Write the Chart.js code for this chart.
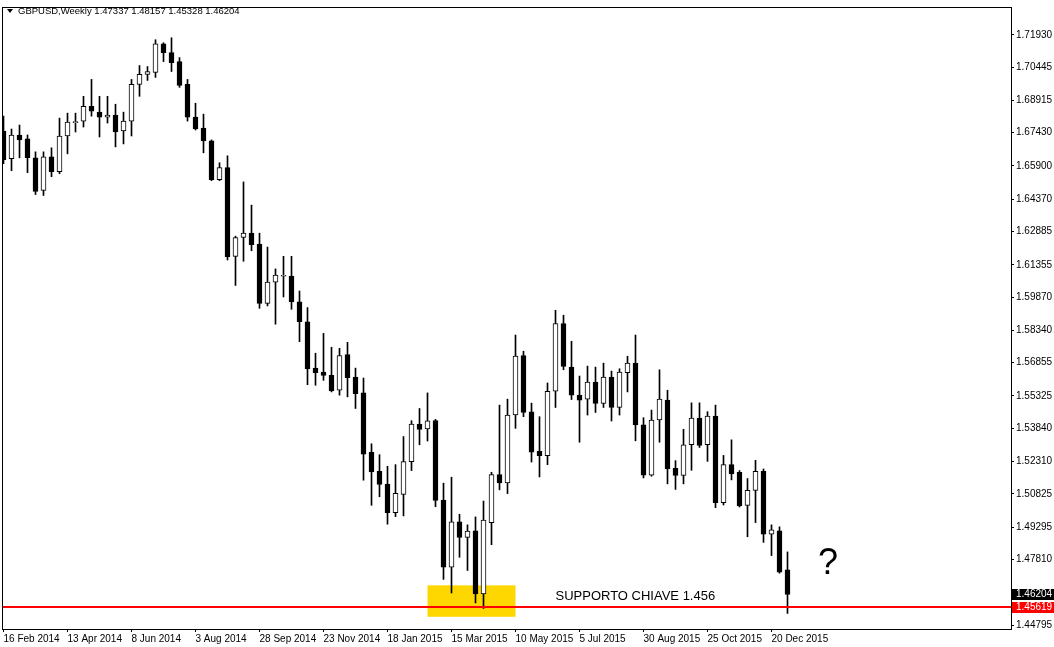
<!DOCTYPE html>
<html>
<head>
<meta charset="utf-8">
<script src="https://cdn.jsdelivr.net/npm/chart.js@4.4.1/dist/chart.umd.min.js"></script>
<style>
  html, body { margin: 0; padding: 0; background: #fff; overflow: hidden; }
  canvas { display: block; }
</style>
</head>
<body>
<canvas id="chart" width="1054" height="647"></canvas>
<script>
/* ---- data: GBPUSD weekly candles, 16 Feb 2014 → 3 Jan 2016 ---- */
const symbol = 'GBPUSD,Weekly';

const opens = [
  1.67507, 1.66230, 1.67325, 1.67142, 1.66276, 1.64771, 1.66321, 1.65637, 1.67279, 1.67894,
  1.67963, 1.68647, 1.68374, 1.68146, 1.68237, 1.67507, 1.67963, 1.69651, 1.70107, 1.70198,
  1.71520, 1.71110, 1.70699, 1.69651, 1.68146, 1.67644, 1.67051, 1.65272, 1.65820, 1.61747,
  1.62613, 1.62810, 1.62308, 1.59585, 1.60561, 1.60830, 1.60835, 1.59649, 1.58737, 1.56607,
  1.56425, 1.56274, 1.55590, 1.57232, 1.56197, 1.55467, 1.52731, 1.51864, 1.51271, 1.49962,
  1.50801, 1.52307, 1.54039, 1.53812, 1.54190, 1.50542, 1.47454, 1.49538, 1.48822, 1.49128,
  1.46223, 1.49506, 1.51714, 1.51330, 1.54450, 1.57186, 1.54602, 1.52776, 1.52580, 1.55544,
  1.58659, 1.56653, 1.55362, 1.55180, 1.55969, 1.54979, 1.56197, 1.54797, 1.56393, 1.56835,
  1.53994, 1.51682, 1.54222, 1.55134, 1.52001, 1.51668, 1.53082, 1.54313, 1.53082, 1.54406,
  1.50419, 1.52169, 1.51819, 1.50300, 1.50984, 1.51864, 1.48977, 1.49128, 1.47337
];
const highs = [
  1.68191, 1.67598, 1.67781, 1.67325, 1.66549, 1.66549, 1.66732, 1.68100, 1.68328, 1.68328,
  1.69103, 1.69879, 1.69103, 1.69103, 1.68738, 1.68374, 1.69879, 1.70517, 1.70471, 1.71703,
  1.71566, 1.71794, 1.70882, 1.69879, 1.68784, 1.68282, 1.67097, 1.66048, 1.66367, 1.62673,
  1.65167, 1.64100, 1.62810, 1.62171, 1.61168, 1.61747, 1.61747, 1.60151, 1.59389, 1.57291,
  1.58203, 1.57565, 1.57519, 1.57793, 1.56607, 1.56151, 1.53128, 1.52626, 1.52092, 1.52169,
  1.53460, 1.54190, 1.54751, 1.55467, 1.54249, 1.51317, 1.51591, 1.49888, 1.49401, 1.49766,
  1.50496, 1.51819, 1.54906, 1.55180, 1.58126, 1.57383, 1.54997, 1.54373, 1.55923, 1.59266,
  1.59038, 1.57839, 1.56242, 1.56699, 1.56653, 1.56835, 1.56470, 1.56575, 1.57155, 1.58126,
  1.54327, 1.54678, 1.56530, 1.55590, 1.52352, 1.53793, 1.55011, 1.55011, 1.54602, 1.54906,
  1.52594, 1.53310, 1.51896, 1.51531, 1.52366, 1.51969, 1.49401, 1.49310, 1.48157
];
const lows = [
  1.66002, 1.65683, 1.66276, 1.65592, 1.64588, 1.64543, 1.65409, 1.65546, 1.66458, 1.67461,
  1.67689, 1.68191, 1.67233, 1.67872, 1.66777, 1.66914, 1.67279, 1.69103, 1.69833, 1.69970,
  1.70699, 1.70243, 1.69514, 1.67963, 1.67553, 1.66504, 1.65226, 1.65226, 1.61578, 1.60406,
  1.61519, 1.62002, 1.59357, 1.59466, 1.58628, 1.59877, 1.59312, 1.57825, 1.55846, 1.55818,
  1.56046, 1.55513, 1.55362, 1.55285, 1.54751, 1.51454, 1.50300, 1.50692, 1.49433, 1.49780,
  1.49812, 1.51896, 1.53082, 1.53255, 1.50236, 1.46893, 1.46268, 1.47910, 1.47304, 1.45812,
  1.45557, 1.48489, 1.51011, 1.50838, 1.53839, 1.54373, 1.52288, 1.51604, 1.52169, 1.54797,
  1.56530, 1.55161, 1.53200, 1.54450, 1.54569, 1.54797, 1.54176, 1.54450, 1.55513, 1.53264,
  1.51558, 1.51636, 1.53200, 1.51285, 1.51030, 1.51285, 1.51910, 1.52959, 1.52320, 1.50191,
  1.50314, 1.51468, 1.50222, 1.48854, 1.49506, 1.48594, 1.47988, 1.47180, 1.45328
];
const closes = [
  1.66184, 1.67325, 1.67097, 1.66276, 1.64725, 1.66321, 1.65637, 1.67279, 1.67917, 1.67940,
  1.68647, 1.68419, 1.68146, 1.68237, 1.67461, 1.67963, 1.69651, 1.70107, 1.70243, 1.71520,
  1.71110, 1.70654, 1.69605, 1.68146, 1.67598, 1.67051, 1.65272, 1.65820, 1.61715, 1.62613,
  1.62810, 1.62276, 1.59585, 1.60561, 1.60880, 1.60840, 1.59649, 1.58737, 1.56575, 1.56393,
  1.56274, 1.55558, 1.57186, 1.56165, 1.55435, 1.52653, 1.51832, 1.51258, 1.49962, 1.50847,
  1.52307, 1.54039, 1.53793, 1.54181, 1.50528, 1.47454, 1.49538, 1.48822, 1.49114, 1.46223,
  1.49616, 1.51714, 1.51330, 1.54450, 1.57155, 1.54569, 1.52745, 1.52580, 1.55544, 1.58659,
  1.56685, 1.55362, 1.55134, 1.55969, 1.54979, 1.56197, 1.54797, 1.56425, 1.56835, 1.53994,
  1.51682, 1.54222, 1.55180, 1.51969, 1.51668, 1.53082, 1.54313, 1.53050, 1.54406, 1.50419,
  1.52169, 1.51741, 1.50268, 1.50984, 1.51864, 1.48977, 1.49173, 1.47226, 1.46204
];

// tick labels (one every 8 weeks, starting at the first candle)
const dateTicks = [
  '16 Feb 2014', '13 Apr 2014', '8 Jun 2014', '3 Aug 2014', '28 Sep 2014', '23 Nov 2014',
  '18 Jan 2015', '15 Mar 2015', '10 May 2015', '5 Jul 2015', '30 Aug 2015', '25 Oct 2015',
  '20 Dec 2015'
];
const dateTickStep = 8;
const priceTicks = [
  1.71930, 1.70445, 1.68915, 1.67430, 1.65900, 1.64370, 1.62885, 1.61355, 1.59870,
  1.58340, 1.56855, 1.55325, 1.53840, 1.52310, 1.50825, 1.49295, 1.47810, 1.44795
];

// drawn objects
const supportLevel = 1.45619;
const supportZone = { from: 53, to: 64, top: 1.46620, bottom: 1.45174 };
const supportNote = { text: 'SUPPORTO CHIAVE 1.456', at: 69, price: 1.45935 };
const questionMark = { text: '?', at: 101.8, price: 1.47121 };

/* ---- chart ---- */
const FONT = "'Liberation Sans', Arial, sans-serif";
const last = closes.length - 1;

const bodies = opens.map((o, i) => ({ x: i, y: [o, closes[i]] }));
const wicks = lows.map((l, i) => ({ x: i, y: [l, highs[i]] }));

const overlay = {
  id: 'overlay',
  beforeDatasetsDraw(chart) {
    const { ctx, scales: { x, y } } = chart;
    const x0 = x.getPixelForValue(supportZone.from), x1 = x.getPixelForValue(supportZone.to);
    const y0 = y.getPixelForValue(supportZone.top), y1 = y.getPixelForValue(supportZone.bottom);
    ctx.save();
    ctx.fillStyle = '#FFD700';
    ctx.fillRect(x0, y0, x1 - x0, y1 - y0);
    ctx.restore();
  },
  afterDatasetsDraw(chart) {
    const { ctx, chartArea: a, scales: { x, y } } = chart;
    ctx.save();
    // support line
    const ly = Math.round(y.getPixelForValue(supportLevel));
    ctx.strokeStyle = '#FF0000';
    ctx.lineWidth = 2;
    ctx.beginPath();
    ctx.moveTo(a.left, ly);
    ctx.lineTo(a.right, ly);
    ctx.stroke();
    // texts
    ctx.fillStyle = '#000';
    ctx.textBaseline = 'alphabetic';
    ctx.textAlign = 'left';
    ctx.font = '13px ' + FONT;
    ctx.fillText(supportNote.text, x.getPixelForValue(supportNote.at), y.getPixelForValue(supportNote.price));
    ctx.font = '36px ' + FONT;
    ctx.fillText(questionMark.text, x.getPixelForValue(questionMark.at), y.getPixelForValue(questionMark.price));
    ctx.restore();
  },
  afterDraw(chart) {
    const { ctx, chartArea: a, scales: { y } } = chart;
    ctx.save();
    // frame
    ctx.strokeStyle = '#000';
    ctx.lineWidth = 1;
    ctx.strokeRect(a.left - 0.5, a.top - 0.5, a.right - a.left + 1, a.bottom - a.top + 1);
    // header
    ctx.fillStyle = '#000';
    ctx.beginPath();
    ctx.moveTo(7, 9); ctx.lineTo(13, 9); ctx.lineTo(10, 13); ctx.closePath();
    ctx.fill();
    ctx.font = '9.5px ' + FONT;
    ctx.textBaseline = 'middle';
    ctx.fillText(symbol + ' ' + [opens[last], highs[last], lows[last], closes[last]]
      .map(v => v.toFixed(5)).join(' '), 18, 11);
    // price boxes on the axis
    ctx.font = '10px ' + FONT;
    const box = (price, bg) => {
      const cy = y.getPixelForValue(price);
      ctx.fillStyle = bg;
      ctx.fillRect(a.right + 1, Math.round(cy - 5.5), chart.width - a.right - 1, 11);
      ctx.fillStyle = '#fff';
      ctx.fillText(price.toFixed(5), a.right + 5, cy);
    };
    box(closes[last], '#000');
    box(supportLevel, '#FF0000');
    ctx.restore();
  }
};

new Chart(document.getElementById('chart'), {
  type: 'bar',
  data: {
    datasets: [
      {
        data: bodies,
        order: 0,
        barThickness: 5,
        minBarLength: 1,
        borderWidth: 1,
        borderSkipped: false,
        borderColor: '#000',
        backgroundColor: bodies.map(b => b.y[1] >= b.y[0] ? '#fff' : '#000')
      },
      {
        data: wicks,
        order: 1,
        barThickness: 1,
        borderWidth: 0,
        backgroundColor: '#000'
      }
    ]
  },
  options: {
    responsive: false,
    animation: false,
    devicePixelRatio: 1,
    grouped: false,
    layout: { padding: { left: 3, top: 3, right: 0, bottom: 0 }, autoPadding: false },
    plugins: { legend: { display: false }, tooltip: { enabled: false } },
    scales: {
      x: {
        type: 'linear',
        offset: false,
        min: -0.0625,
        max: 125.9375,
        afterFit: s => { s.height = 18; },
        afterBuildTicks: s => { s.ticks = dateTicks.map((_, i) => ({ value: i * dateTickStep })); },
        border: { display: false },
        grid: { drawOnChartArea: false, drawTicks: true, tickLength: 3, color: '#000', offset: false },
        ticks: {
          autoSkip: false, maxRotation: 0, align: 'start', padding: 1,
          color: '#000', font: { family: FONT, size: 10 },
          callback: v => dateTicks[v / dateTickStep]
        }
      },
      y: {
        position: 'right',
        min: 1.44613,
        max: 1.73162,
        afterFit: s => { s.width = 43; },
        afterBuildTicks: s => { s.ticks = priceTicks.map(v => ({ value: v })); },
        border: { display: false },
        grid: { drawOnChartArea: false, drawTicks: true, tickLength: 3, color: '#000' },
        ticks: {
          autoSkip: false, padding: 2,
          color: '#000', font: { family: FONT, size: 10 },
          callback: v => v.toFixed(5)
        }
      }
    }
  },
  plugins: [overlay]
});
</script>
</body>
</html>
